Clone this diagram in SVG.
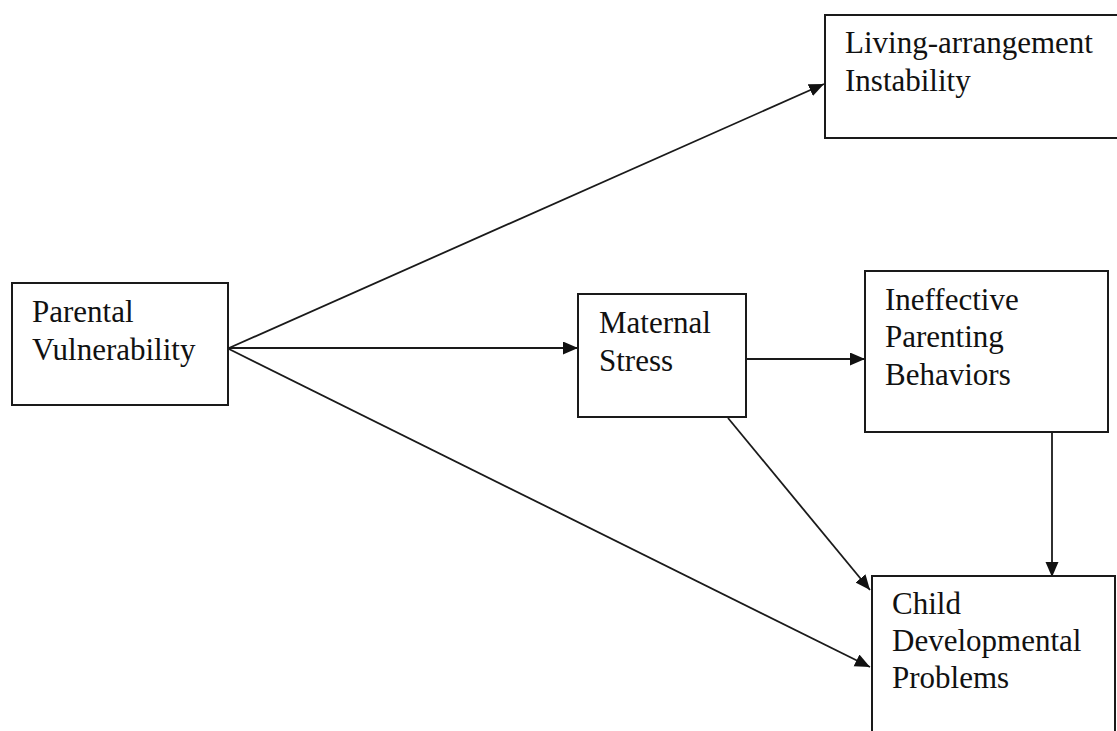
<svg xmlns="http://www.w3.org/2000/svg" width="1117" height="731" viewBox="0 0 1117 731">
  <style>
    .box { fill: #ffffff; stroke: #1a1a1a; stroke-width: 2; }
    .lbl { font-family: "Liberation Serif", "Times New Roman", serif; font-size: 31px; fill: #111111; }
    .edge { stroke: #1a1a1a; stroke-width: 1.8; fill: none; marker-end: url(#arrow); }
  </style>
  <defs>
    <marker id="arrow" markerUnits="userSpaceOnUse" markerWidth="16" markerHeight="14" refX="15" refY="6.5" orient="auto">
      <path d="M0,0 L15,6.5 L0,13 z" fill="#111111"/>
    </marker>
  </defs>
  <rect width="1117" height="731" fill="#ffffff"/>

  <g id="connectors">
    <line class="edge" x1="229" y1="348" x2="824" y2="84"/>
    <line class="edge" x1="229" y1="348" x2="578" y2="348"/>
    <line class="edge" x1="229" y1="349" x2="870" y2="667"/>
    <line class="edge" x1="746" y1="359" x2="865" y2="359"/>
    <line class="edge" x1="728" y1="418" x2="870" y2="590"/>
    <line class="edge" x1="1052" y1="432" x2="1052" y2="577"/>
  </g>

  <g id="parental-vulnerability">
    <rect class="box" x="12" y="283" width="216" height="122"/>
    <text class="lbl" x="32" y="322">Parental</text>
    <text class="lbl" x="32" y="360">Vulnerability</text>
  </g>

  <g id="maternal-stress">
    <rect class="box" x="578" y="294" width="168" height="123"/>
    <text class="lbl" x="599" y="333">Maternal</text>
    <text class="lbl" x="599" y="371">Stress</text>
  </g>

  <g id="living-arrangement-instability">
    <rect class="box" x="825" y="15" width="320" height="123"/>
    <text class="lbl" x="845" y="53">Living-arrangement</text>
    <text class="lbl" x="845" y="91">Instability</text>
  </g>

  <g id="ineffective-parenting-behaviors">
    <rect class="box" x="865" y="271" width="243" height="161"/>
    <text class="lbl" x="885" y="310">Ineffective</text>
    <text class="lbl" x="885" y="347">Parenting</text>
    <text class="lbl" x="885" y="385">Behaviors</text>
  </g>

  <g id="child-developmental-problems">
    <rect class="box" x="872" y="576" width="243" height="200"/>
    <text class="lbl" x="892" y="614">Child</text>
    <text class="lbl" x="892" y="651">Developmental</text>
    <text class="lbl" x="892" y="688">Problems</text>
  </g>
</svg>
